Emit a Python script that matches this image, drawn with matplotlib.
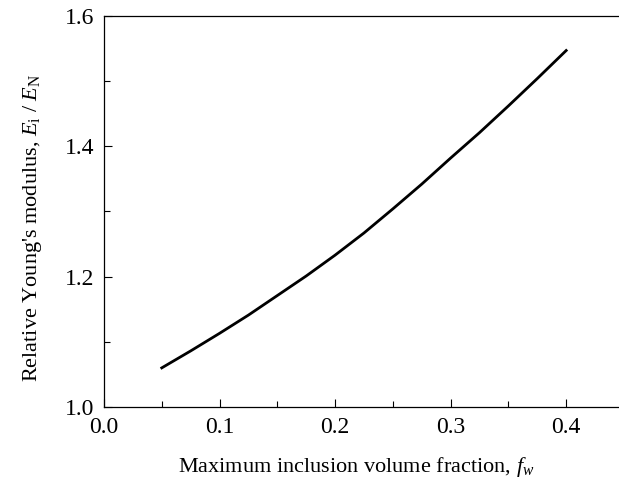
import matplotlib
matplotlib.use("Agg")
import matplotlib.pyplot as plt
from matplotlib.ticker import MultipleLocator

plt.rcParams['font.family'] = 'Liberation Serif'
plt.rcParams['mathtext.fontset'] = 'custom'
plt.rcParams['mathtext.rm'] = 'Liberation Serif'
plt.rcParams['mathtext.it'] = 'Liberation Serif:italic'

# values
f_w = [0.05, 0.075, 0.10, 0.125, 0.15, 0.175, 0.20, 0.225, 0.25, 0.275, 0.30, 0.325, 0.35, 0.375, 0.40]
E_rel = [1.060, 1.086, 1.113, 1.141, 1.171, 1.201, 1.233, 1.267, 1.304, 1.342, 1.382, 1.421, 1.462, 1.504, 1.547]

fig = plt.figure(figsize=(6.19, 4.86), dpi=100)
ax = fig.add_axes([0.168, 0.1626, 0.84, 0.8045])

ax.plot(f_w, E_rel, color='black', lw=2.0)

ax.set_xlim(0, 0.45)
ax.set_ylim(1.0, 1.6)
ax.xaxis.set_major_locator(MultipleLocator(0.1))
ax.xaxis.set_minor_locator(MultipleLocator(0.05))
ax.yaxis.set_major_locator(MultipleLocator(0.2))
ax.yaxis.set_minor_locator(MultipleLocator(0.1))
ax.tick_params(which='both', direction='in', top=False, right=False, labelsize=17, pad=7)
ax.tick_params(which='major', length=6, width=0.8)
ax.tick_params(which='minor', length=4, width=0.8)
for s in ax.spines.values():
    s.set_linewidth(0.9)

ax.set_xlabel("Maximum inclusion volume fraction, $\\mathit{f}_{\\mathit{w}}$", fontsize=16)
ax.set_ylabel("Relative Young's modulus, $\\mathit{E}_{\\mathrm{i}}$ / $\\mathit{E}_{\\mathrm{N}}$", fontsize=16)
ax.xaxis.set_label_coords(0.485, -0.122)
ax.yaxis.set_label_coords(-0.115, 0.458)

fig.savefig("out.png", dpi=100)
